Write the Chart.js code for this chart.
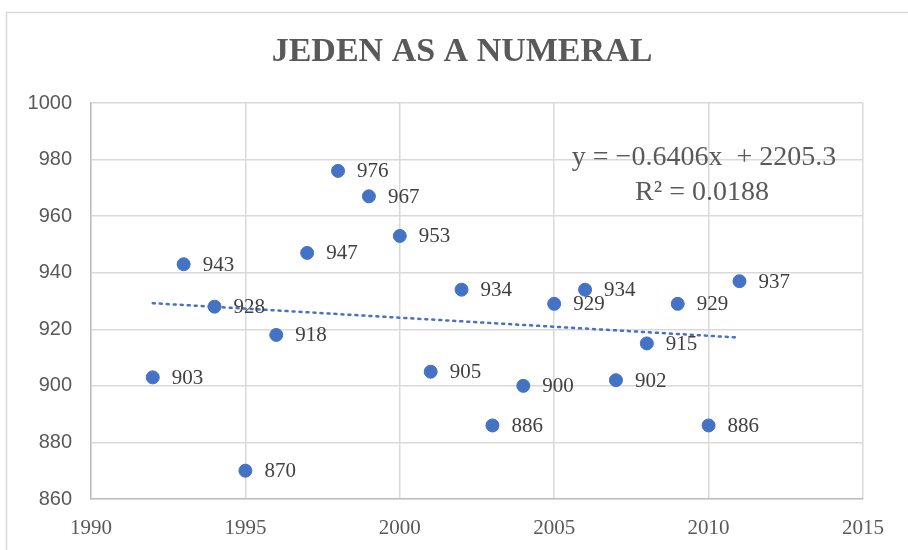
<!DOCTYPE html>
<html lang="en">
<head>
  <meta charset="UTF-8" />
  <title>Jeden as a numeral</title>
  <script src="https://cdn.jsdelivr.net/npm/chart.js"></script>
  <style>
    html, body { margin: 0; padding: 0; background: #fff; }
    #wrap { width: 908px; height: 550px; position: relative; }
  </style>
</head>
<body>
  <div id="wrap"><canvas id="chart" width="908" height="550"></canvas></div>

  <script>
    // data
    const years  = [1992, 1993, 1994, 1995, 1996, 1997, 1998, 1999, 2000, 2001,
                    2002, 2003, 2004, 2005, 2006, 2007, 2008, 2009, 2010, 2011];
    const counts = [903, 943, 928, 870, 918, 947, 976, 967, 953, 905,
                    934, 886, 900, 929, 934, 902, 915, 929, 886, 937];

    // trendline as printed on the chart
    const slope = -0.6406;
    const intercept = 2205.3;
    const equationLines = ["y = \u22120.6406x  + 2205.3", "R\u00B2 = 0.0188"];
    const titleText = "JEDEN AS A NUMERAL";

    const xTicks = [1990, 1995, 2000, 2005, 2010, 2015];
    const yTicks = [860, 880, 900, 920, 940, 960, 980, 1000];

    const blue = "#4472C4";
    const serif = "'Liberation Serif', 'Times New Roman', serif";
    const sans = "'Liberation Sans', Arial, sans-serif";

    const points = years.map((y, i) => ({ x: y, y: counts[i] }));
    const x0 = years[0], x1 = years[years.length - 1];
    const trend = [
      { x: x0, y: slope * x0 + intercept },
      { x: x1, y: slope * x1 + intercept }
    ];

    // frame, title, labels next to each point, equation box
    const extras = {
      id: "extras",
      beforeDraw(chart) {
        const c = chart.ctx;
        c.save();
        c.strokeStyle = "#d9d9d9";
        c.lineWidth = 1.5;
        c.strokeRect(6.5, 12.5, 920, 560);
        c.font = "bold 34px " + serif;
        c.fillStyle = "#595959";
        c.textAlign = "center";
        c.textBaseline = "middle";
        c.fillText(titleText, 462, 52);
        c.restore();
      },
      afterDatasetsDraw(chart) {
        const c = chart.ctx;
        const meta = chart.getDatasetMeta(0);
        c.save();
        c.font = "21px " + serif;
        c.fillStyle = "#404040";
        c.textBaseline = "middle";
        c.textAlign = "left";
        meta.data.forEach((pt, i) => {
          c.fillText(String(counts[i]), pt.x + 19, pt.y + 1);
        });
        const a = chart.chartArea;
        c.font = "28px " + serif;
        c.fillStyle = "#595959";
        c.textAlign = "center";
        c.fillText(equationLines[0], a.left + 613, a.top + 55);
        c.fillText(equationLines[1], a.left + 611, a.top + 90);
        c.restore();
      }
    };

    new Chart(document.getElementById("chart"), {
      data: {
        datasets: [
          {
            type: "scatter",
            data: points,
            order: 0,
            backgroundColor: blue,
            borderColor: blue,
            pointRadius: 6.5,
            pointHoverRadius: 6.5
          },
          {
            type: "line",
            data: trend,
            order: 1,
            borderColor: blue,
            borderWidth: 2.5,
            borderDash: [2, 5],
            borderCapStyle: "round",
            pointRadius: 0,
            fill: false
          }
        ]
      },
      options: {
        responsive: false,
        animation: false,
        layout: { padding: { top: 103, right: 45, bottom: 0, left: 0 } },
        plugins: {
          legend: { display: false },
          tooltip: { enabled: false },
          title: { display: false }
        },
        scales: {
          x: {
            type: "linear",
            min: 1990,
            max: 2015,
            afterBuildTicks: (s) => { s.ticks = xTicks.map(v => ({ value: v })); },
            afterFit: (s) => { s.height = 51; },
            grid: { color: "#d9d9d9", lineWidth: 1.5, drawTicks: false },
            border: { color: "#bfbfbf", width: 1.5 },
            ticks: {
              color: "#595959", padding: 17,
              font: { family: serif, size: 21 },
              callback: (v) => String(v)
            }
          },
          y: {
            min: 860,
            max: 1000,
            afterBuildTicks: (s) => { s.ticks = yTicks.map(v => ({ value: v })); },
            afterFit: (s) => { s.width = 91; },
            grid: { color: "#d9d9d9", lineWidth: 1.5, drawTicks: false },
            border: { color: "#bfbfbf", width: 1.5 },
            ticks: {
              color: "#595959", padding: 19,
              font: { family: sans, size: 20 },
              callback: (v) => String(v)
            }
          }
        }
      },
      plugins: [extras]
    });
  </script>
</body>
</html>
